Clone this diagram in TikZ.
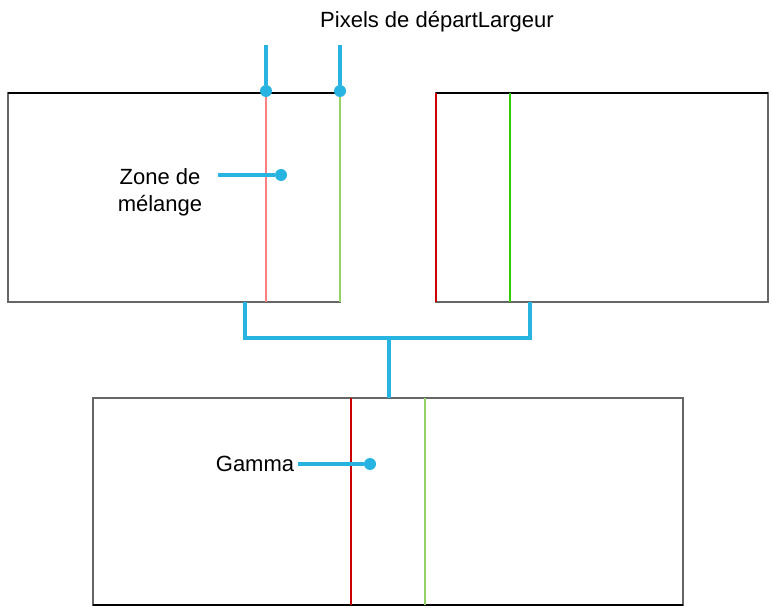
\documentclass[tikz,border=0pt]{standalone}
\usepackage{fontspec}
\setmainfont{Liberation Sans}
\definecolor{leadCyan}{RGB}{40,180,225}
\begin{document}
\begin{tikzpicture}[x=1pt,y=-1pt,%%
  boxStyle/.style={-,draw=gray!80!black,line width=1.4pt},%%
  topStyle/.style={-,draw=black,line width=2.4pt},%%
  leadStyle/.style={-,draw=leadCyan,line width=3.4pt},%%
  dotStyle/.style={circle,fill=leadCyan,inner sep=0pt,minimum size=12pt},%%
  redStyle/.style={-,draw=red!80!black,line width=2pt},%%
  pinkStyle/.style={-,draw=red!50,line width=1.5pt},%%
  greenStyle/.style={-,draw=green!60!olive,line width=2pt},%%
  lightGreenStyle/.style={-,draw=green!40!olive!60,line width=1.5pt},%%
  labelStyle/.style={font=\fontsize{22}{27}\selectfont,inner sep=0pt}%%
]
\useasboundingbox (0,0) rectangle (773,609);
%%
%% The left picture.
\draw[boxStyle] (8,93) rectangle (340,302);
\draw[topStyle] (8,93) -- (340,93);
\draw[pinkStyle] (266,93) -- (266,302);
\draw[lightGreenStyle] (340,93) -- (340,302);
%% The right picture.
\draw[boxStyle] (436,93) rectangle (768,302);
\draw[topStyle] (436,93) -- (768,93);
\draw[redStyle] (436,93) -- (436,302);
\draw[greenStyle] (510,93) -- (510,302);
%% The blended picture.
\draw[boxStyle] (93,398) rectangle (683,605);
\draw[topStyle] (93,605) -- (683,605);
\draw[redStyle] (351,398) -- (351,605);
\draw[lightGreenStyle] (425,398) -- (425,605);
%%
%% The bracket joining the pictures.
\coordinate (leftFoot) at (245,302);
\coordinate (rightFoot) at (530,302);
\coordinate (blendTop) at (389,398);
\draw[leadStyle] (leftFoot) |- (389,338) -| (rightFoot);
\draw[leadStyle] (389,338) -- (blendTop);
%%
%% Labels.
\node[labelStyle] (start) at (437,22) {Pixels de départLargeur};
\node[dotStyle] (startDot) at (266,91) {};
\node[dotStyle] (widthDot) at (340,91) {};
\draw[leadStyle] (266,45) -- (startDot);
\draw[leadStyle] (340,45) -- (widthDot);
%%
\node[labelStyle,align=center] (zone) at (160,192) {Zone de\\mélange};
\node[dotStyle] (zoneDot) at (281,175) {};
\draw[leadStyle] (218,175) -- (zoneDot);
%%
\node[labelStyle] (gamma) at (255,464) {Gamma};
\node[dotStyle] (gammaDot) at (370,464) {};
\draw[leadStyle] (gamma.east) ++(4,0) -- (gammaDot);
\end{tikzpicture}
\end{document}
